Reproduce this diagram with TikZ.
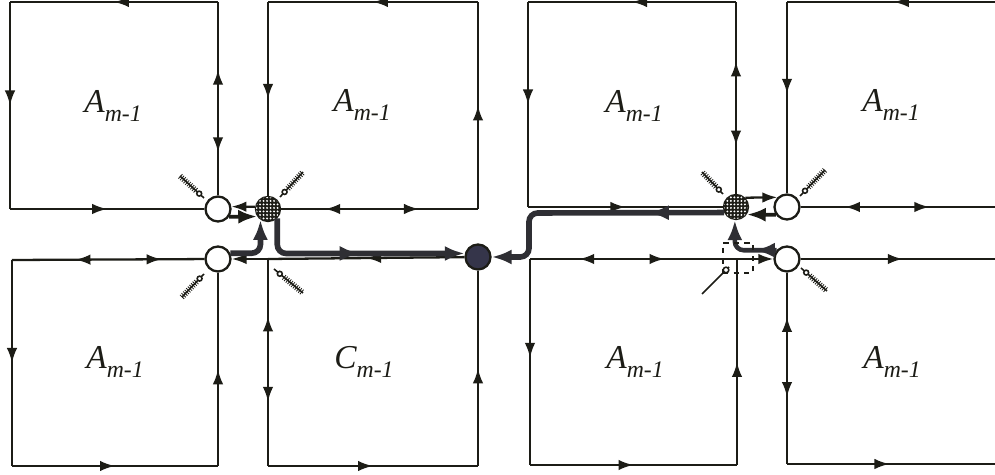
\documentclass[tikz,border=0pt]{standalone}
\usepackage{fontspec}
\setmainfont{Liberation Serif}
\usetikzlibrary{arrows.meta,calc,decorations.markings,decorations.pathreplacing,patterns.meta}
\definecolor{Ink}{HTML}{1C1C16}
\definecolor{Bus}{HTML}{2F2F34}
\definecolor{Hub}{HTML}{35354A}
\tikzset{
  cell/.style={draw=Ink, line width=1.3pt},
  fwdat/.style={postaction={decorate, decoration={markings, mark=at position #1 with {\arrow{Latex[length=3mm, width=2.1mm]}}}}},
  bwdat/.style={postaction={decorate, decoration={markings, mark=at position #1 with {\arrow{Latex[length=3mm, width=2.1mm, reversed]}}}}},
  bigat/.style={postaction={decorate, decoration={markings, mark=at position #1 with {\arrow{Latex[length=4mm, width=3mm]}}}}},
  tipend/.style={-{Latex[length=3mm, width=2.1mm]}},
  bigend/.style={-{Latex[length=4mm, width=3mm]}},
  bus/.style={draw=Bus, line width=3.2pt, rounded corners=5pt},
  feed/.style={draw=Ink, line width=2.2pt, -{Latex[length=3.8mm, width=2.8mm]}},
  openport/.style={circle, draw=Ink, line width=1.3pt, fill=white, minimum size=0.5cm, inner sep=0pt},
  dotport/.style={circle, draw=Ink, line width=1.3pt, fill=Ink, minimum size=0.48cm, inner sep=0pt,
    postaction={pattern={Dots[distance=2pt, radius=0.6pt]}, pattern color=white}},
  sinkport/.style={circle, draw=Ink, line width=1.3pt, fill=Hub, minimum size=0.5cm, inner sep=0pt},
  cellname/.style={font=\fontsize{19}{19}\selectfont\itshape, text=Ink, inner sep=0pt},
  probe/.style={draw=Ink, line width=0.9pt},
  probeticks/.style={draw=Ink, line width=0.45pt, decorate, decoration={ticks, segment length=1.3pt, amplitude=1.7pt}},
}
\newcommand{\cellsym}[1]{#1\raisebox{-5.5pt}{\fontsize{13.5}{13.5}\selectfont m-1}}
\newcommand{\drawprobe}[2]{%
  \draw[probe] #1 -- #2;
  \draw[probeticks] ($#1!0.35!#2$) -- #2;
  \draw[probe, fill=white] ($#1!0.2!#2$) circle (1.4pt);
}
\begin{document}
\begin{tikzpicture}[x=0.02cm, y=-0.02cm]
  \clip (0,0) rectangle (995,475);

  % ports
  \node[openport] (wA) at (218,209) {};
  \node[dotport] (hA) at (268,209) {};
  \node[openport] (wB) at (218,259) {};
  \node[sinkport] (dC) at (478,257) {};
  \node[dotport] (hR) at (736,207) {};
  \node[openport] (wR) at (787,207) {};
  \node[openport] (wS) at (787,259) {};

  % cell corners
  \coordinate (a1) at (10,2);    \coordinate (a2) at (218,2);   \coordinate (a3) at (10,209);
  \coordinate (b1) at (268,2);   \coordinate (b2) at (478,2);   \coordinate (b3) at (478,209);
  \coordinate (c1) at (12,260);  \coordinate (c2) at (12,466);  \coordinate (c3) at (218,466);
  \coordinate (d1) at (268,259); \coordinate (d2) at (268,466); \coordinate (d3) at (478,466);
  \coordinate (e1) at (528,2);   \coordinate (e2) at (736,2);   \coordinate (e3) at (528,207);
  \coordinate (f1) at (787,2);   \coordinate (f2) at (1005,2);  \coordinate (f3) at (1005,207);
  \coordinate (g1) at (530,259); \coordinate (g2) at (737,259); \coordinate (g3) at (530,465); \coordinate (g4) at (737,465);
  \coordinate (h1) at (1005,259); \coordinate (h2) at (787,464); \coordinate (h3) at (1005,464);

  % upper left cell
  \draw[cell, fwdat=0.5] (a2) -- (a1);
  \draw[cell, fwdat=0.5] (a1) -- (a3);
  \draw[cell, fwdat=0.5] (a3) -- (wA);
  \draw[cell, bwdat=0.3, fwdat=0.65] (wA) -- (a2);
  % upper second cell
  \draw[cell, fwdat=0.5] (b2) -- (b1);
  \draw[cell, fwdat=0.5] (b1) -- (hA);
  \draw[cell, fwdat=0.5] (b3) -- (b2);
  \draw[cell, bwdat=0.3, fwdat=0.7] (hA) -- (b3);
  % lower left cell
  \draw[cell, bwdat=0.3, fwdat=0.67] (wB) -- (c1);
  \draw[cell, fwdat=0.5] (c1) -- (c2);
  \draw[cell, fwdat=0.5] (c2) -- (c3);
  \draw[cell, fwdat=0.5] (c3) -- (wB);
  % C cell
  \draw[cell, fwdat=0.5] (dC) -- (d1);
  \draw[cell, tipend] (d1) -- (wB);
  \draw[cell, bwdat=0.35, fwdat=0.69] (d1) -- (d2);
  \draw[cell, fwdat=0.5] (d2) -- (d3);
  \draw[cell, fwdat=0.5] (d3) -- (dC);
  % upper third cell
  \draw[cell, fwdat=0.5] (e2) -- (e1);
  \draw[cell, fwdat=0.5] (e1) -- (e3);
  \draw[cell, fwdat=0.5] (e3) -- (hR);
  \draw[cell, bwdat=0.33, fwdat=0.69] (hR) -- (e2);
  % upper right cell
  \draw[cell, fwdat=0.51] (f2) -- (f1);
  \draw[cell, fwdat=0.48] (f1) -- (wR);
  \draw[cell, bwdat=0.29, fwdat=0.63] (wR) -- (f3);
  % lower third cell
  \draw[cell, bwdat=0.31, fwdat=0.65] (g1) -- (g2);
  \draw[cell, tipend] (g2) -- (wS);
  \draw[cell, fwdat=0.48] (g1) -- (g3);
  \draw[cell, fwdat=0.5] (g3) -- (g4);
  \draw[cell, fwdat=0.5] (g4) -- (g2);
  % lower right cell
  \draw[cell, fwdat=0.5] (wS) -- (h1);
  \draw[cell, bwdat=0.31, fwdat=0.65] (wS) -- (h2);
  \draw[cell, fwdat=0.47] (h2) -- (h3);

  % port pairs
  \draw[cell, tipend] (hA.170) -- (wA.10);
  \draw[feed] (wA.-35) -- (hA.-145);
  \draw[cell, tipend] (hR.45) -- (wR.135);
  \draw[feed] (wR.-145) -- (hR.-35);

  % bus routes
  \coordinate (bendR) at (529,213);
  \draw[bus, bigend] (wB.25) -| (hA.-125);
  \draw[bus, bigat=0.52, bigend] (hA.-45) |- (dC.165);
  \draw[bus, bigat=0.28, bigend] (hR.-155) -- (bendR) |- (dC.east);
  \draw[bus, line width=2.6pt, bigat=0.32, bigend] (wS.140) -| (hR.-95);

  % focus mark
  \node[draw=Ink, dashed, line width=0.8pt, minimum size=0.6cm, inner sep=0pt] (focus) at (738,258) {};

  % probes
  \drawprobe{(204,198)}{(180,176)}
  \drawprobe{(280,197)}{(303,172)}
  \drawprobe{(204,274)}{(182,297)}
  \drawprobe{(274,269)}{(303,293)}
  \drawprobe{(723,194)}{(702,172)}
  \drawprobe{(800,196)}{(825,170)}
  \drawprobe{(801,268)}{(827,291)}
  \draw[probe] (729,267) -- (702,294);
  \draw[probe, fill=white] (726,270) circle (1.6pt);

  % cell names
  \node[cellname] (nTL) at (113,106) {\cellsym{A}};
  \node[cellname] (nT2) at (362,105) {\cellsym{A}};
  \node[cellname] (nT3) at (634,106) {\cellsym{A}};
  \node[cellname] (nT4) at (891,105) {\cellsym{A}};
  \node[cellname] (nBL) at (115,362) {\cellsym{A}};
  \node[cellname] (nC)  at (364,362) {\cellsym{C}};
  \node[cellname] (nB3) at (635,362) {\cellsym{A}};
  \node[cellname] (nB4) at (892,362) {\cellsym{A}};
\end{tikzpicture}
\end{document}
